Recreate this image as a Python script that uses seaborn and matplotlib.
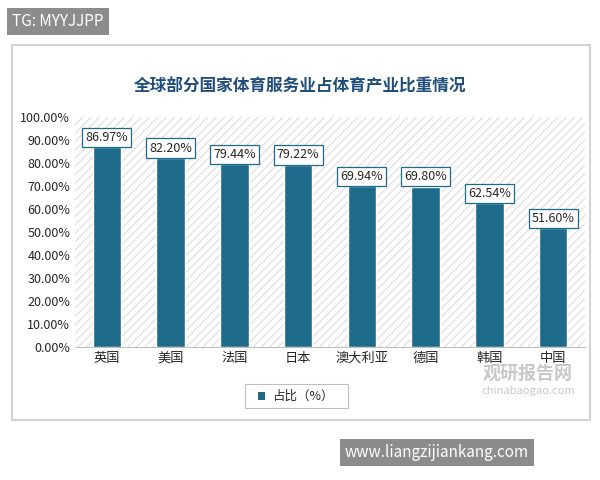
import matplotlib
matplotlib.use("Agg")
import matplotlib.pyplot as plt
import seaborn as sns
import pandas as pd
from matplotlib.patches import Rectangle

countries = ["英国", "美国", "法国", "日本", "澳大利亚", "德国", "韩国", "中国"]
values = [86.97, 82.20, 79.44, 79.22, 69.94, 69.80, 62.54, 51.60]

sns.set_style("white")
plt.rcParams['font.family'] = ['Noto Sans CJK SC', 'DejaVu Sans']
plt.rcParams['hatch.color'] = '#d9d9d9'
plt.rcParams['hatch.linewidth'] = 0.8

fig = plt.figure(figsize=(6, 4.8), dpi=100)
fig.patch.set_facecolor('white')
# outer frame
fig.patches.append(Rectangle((12/600, 60/480), 578/600, 375/480, transform=fig.transFigure,
                             fill=False, edgecolor='#c8c8c8', lw=1.2))
ax = fig.add_axes([0.125, 0.277, 0.85, 0.479])
ax.add_patch(Rectangle((0, 0), 1, 1, transform=ax.transAxes, facecolor='white',
                       hatch='////', edgecolor='#dcdcdc', lw=0, zorder=0))
df = pd.DataFrame({"country": countries, "value": values})
sns.barplot(data=df, x="country", y="value", color="#1d6a8a", saturation=1, width=0.45, ax=ax, zorder=2)
ax.set_ylim(0, 100)
ax.set_yticks(range(0, 101, 10))
ax.set_yticklabels([f"{v:.2f}%" for v in range(0, 101, 10)], fontsize=9)
ax.tick_params(axis='x', labelsize=9.5, length=0)
ax.tick_params(axis='y', length=0)
ax.set_xlabel("")
ax.set_ylabel("")
for s in ['top', 'right', 'left']:
    ax.spines[s].set_visible(False)
ax.spines['bottom'].set_color('#bfbfbf')
for i, v in enumerate(values):
    ax.text(i, v + 1.5, f"{v:.2f}%", ha='center', va='bottom', fontsize=9, zorder=3,
            bbox=dict(boxstyle='square,pad=0.25', fc='white', ec='#1d6a8a', lw=0.9))
fig.text(0.5, 0.82, "全球部分国家体育服务业占体育产业比重情况", ha='center', va='center',
         fontsize=12, fontweight='bold', color='#1f4e79')
# legend
fig.patches.append(Rectangle((245/600, 72/480), 103/600, 24/480, transform=fig.transFigure,
                             fill=False, edgecolor='#bfbfbf', lw=0.8))
fig.patches.append(Rectangle((258/600, 80/480), 7/600, 8/480, transform=fig.transFigure,
                             facecolor='#1d6a8a', edgecolor='none'))
fig.text(272/600, 84/480, "占比（%）", fontsize=9, va='center')
# watermarks
fig.text(0.02, 0.955, "TG: MYYJJPP", fontsize=11, color='white', va='center',
         bbox=dict(boxstyle='square,pad=0.35', fc='#8c8c8c', ec='none'))
fig.text(0.575, 0.057, "www.liangzijiankang.com", fontsize=11, color='white', va='center',
         bbox=dict(boxstyle='square,pad=0.35', fc='#8c8c8c', ec='none'))
fig.text(0.88, 0.21, "观研报告网", fontsize=13, color='#c8c8c8', ha='center', fontweight='bold')
fig.text(0.88, 0.18, "chinabaogao.com", fontsize=8, color='#c8c8c8', ha='center')
fig.savefig("out.png", dpi=100)
